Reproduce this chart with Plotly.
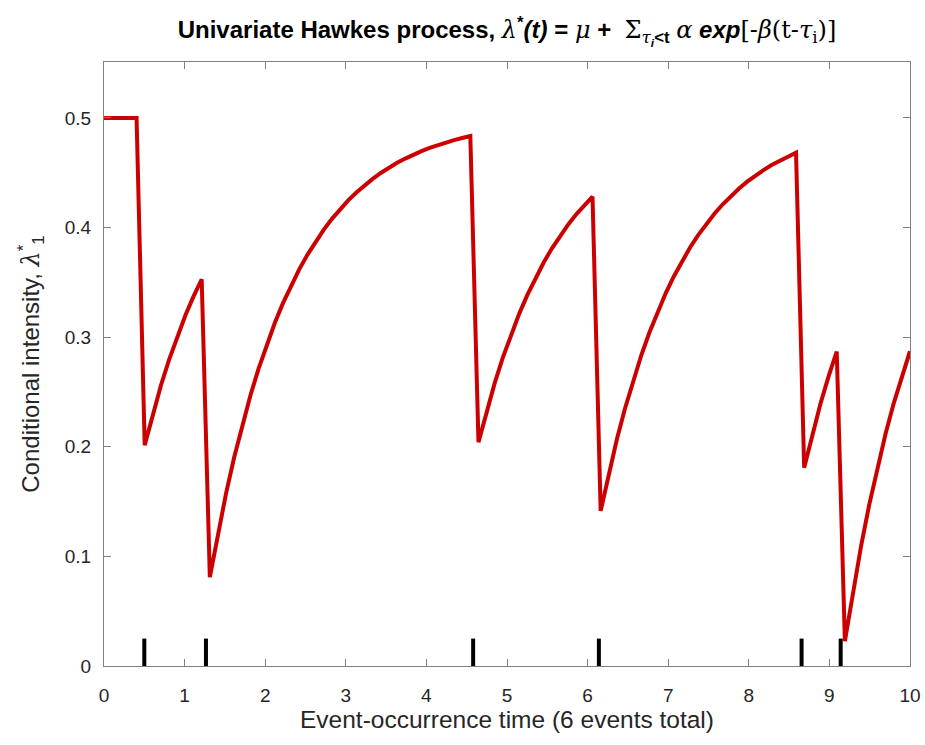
import plotly.graph_objects as go

# Sample times (s) and conditional intensity
t = [0.000, 0.101, 0.202, 0.303, 0.404, 0.505, 0.606, 0.707, 0.808, 0.909,
     1.010, 1.111, 1.212, 1.313, 1.414, 1.515, 1.616, 1.717, 1.818, 1.919,
     2.020, 2.121, 2.222, 2.323, 2.424, 2.525, 2.626, 2.727, 2.828, 2.929,
     3.030, 3.131, 3.232, 3.333, 3.434, 3.535, 3.636, 3.737, 3.838, 3.939,
     4.040, 4.141, 4.242, 4.343, 4.444, 4.545, 4.646, 4.747, 4.848, 4.949,
     5.051, 5.152, 5.253, 5.354, 5.455, 5.556, 5.657, 5.758, 5.859, 5.960,
     6.061, 6.162, 6.263, 6.364, 6.465, 6.566, 6.667, 6.768, 6.869, 6.970,
     7.071, 7.172, 7.273, 7.374, 7.475, 7.576, 7.677, 7.778, 7.879, 7.980,
     8.081, 8.182, 8.283, 8.384, 8.485, 8.586, 8.687, 8.788, 8.889, 8.990,
     9.091, 9.192, 9.293, 9.394, 9.495, 9.596, 9.697, 9.798, 9.899, 10.000]

intensity = [0.500, 0.500, 0.500, 0.500, 0.500, 0.2015, 0.2302, 0.2561, 0.2795, 0.3007,
             0.3199, 0.3372, 0.3528, 0.0810, 0.1213, 0.1577, 0.1906, 0.2203, 0.2472, 0.2715,
             0.2934, 0.3133, 0.3312, 0.3474, 0.3621, 0.3753, 0.3873, 0.3981, 0.4079, 0.4168,
             0.4248, 0.4320, 0.4385, 0.4444, 0.4498, 0.4546, 0.4590, 0.4629, 0.4665, 0.4697,
             0.4726, 0.4752, 0.4776, 0.4797, 0.4817, 0.4835, 0.2042, 0.2326, 0.2583, 0.2815,
             0.3025, 0.3215, 0.3386, 0.3541, 0.3681, 0.3808, 0.3923, 0.4026, 0.4120, 0.4204,
             0.4281, 0.1415, 0.1760, 0.2071, 0.2352, 0.2607, 0.2837, 0.3045, 0.3232, 0.3402,
             0.3556, 0.3694, 0.3820, 0.3933, 0.4036, 0.4128, 0.4212, 0.4288, 0.4356, 0.4418,
             0.4474, 0.4524, 0.4570, 0.4611, 0.4649, 0.4683, 0.1808, 0.2114, 0.2392, 0.2642,
             0.2869, 0.0226, 0.0684, 0.1099, 0.1474, 0.1813, 0.2119, 0.2396, 0.2646, 0.2872]

event_times = [0.50, 1.265, 4.58, 6.14, 8.655, 9.14]
event_mark_height = 0.025

x_ticks = [0, 1, 2, 3, 4, 5, 6, 7, 8, 9, 10]
y_ticks = [0, 0.1, 0.2, 0.3, 0.4, 0.5]
y_ticklabels = ["0", "0.1", "0.2", "0.3", "0.4", "0.5"]

ev_x, ev_y = [], []
for e in event_times:
    ev_x += [e, e, None]
    ev_y += [0, event_mark_height, None]

fig = go.Figure()
fig.add_trace(go.Scatter(x=t, y=intensity, mode="lines",
                         line=dict(color="#CC0000", width=4), showlegend=False))
fig.add_trace(go.Scatter(x=ev_x, y=ev_y, mode="lines",
                         line=dict(color="black", width=4), showlegend=False))

FONT = "Liberation Sans, Arial, sans-serif"
G = "font-family:'DejaVu Serif';font-weight:normal;font-style:italic"
GU = "font-family:'DejaVu Serif';font-weight:normal"
title = ("<b>Univariate Hawkes process, </b>"
         f"<span style=\"{G}\">λ</span><sup><b>*</b></sup><b><i>(t)</i> = </b>"
         f"<span style=\"{G}\">μ</span><b> +  </b>"
         f"<span style=\"{GU}\">Σ</span><sub><span style=\"{G}\">τ</span><sub><b><i>i</i></b></sub><b>&lt;t</b></sub> "
         f"<span style=\"{G}\">α</span> <b><i>exp</i></b>"
         f"<span style=\"{GU}\">[-</span><span style=\"{G}\">β</span><span style=\"{GU}\">(t-</span>"
         f"<span style=\"{G}\">τ</span><sub><span style=\"{GU}\">i</span></sub><span style=\"{GU}\">)]</span>")

axis_common = dict(
    showline=True, linecolor="#808080", linewidth=1, mirror="ticks",
    ticks="inside", ticklen=7, tickcolor="#808080", tickwidth=1,
    showgrid=False, zeroline=False, automargin=False,
    tickfont=dict(family=FONT, size=19, color="#262626"),
)

fig.update_layout(
    width=925, height=745,
    paper_bgcolor="white", plot_bgcolor="white",
    margin=dict(l=104, r=15, t=62, b=79),
    title=dict(text=title, x=0.5, xref="paper", xanchor="center",
               y=0.96, yref="container", yanchor="middle",
               font=dict(family=FONT, size=24, color="black")),
    xaxis=dict(range=[0, 10], tickvals=x_ticks, ticktext=[str(v) for v in x_ticks],
               ticklabelstandoff=12,
               title=dict(text="Event-occurrence time (6 events total)", standoff=6,
                          font=dict(family=FONT, size=24.5, color="#262626")),
               **axis_common),
    yaxis=dict(range=[0, 0.551], tickvals=y_ticks, ticktext=y_ticklabels,
               ticklabelstandoff=8,
               title=dict(text=f"Conditional intensity, <span style=\"{G}\">λ</span><sup>*</sup><sub>1</sub>",
                          standoff=18,
                          font=dict(family=FONT, size=24, color="#262626")),
               **axis_common),
)

# remove the default page margin so the figure fills the 925x745 window exactly
fig.write_html("out.html",
               config={"displayModeBar": False},
               post_script="document.body.style.margin='0';document.body.style.padding='0';"
                           "document.body.style.overflow='hidden';")
